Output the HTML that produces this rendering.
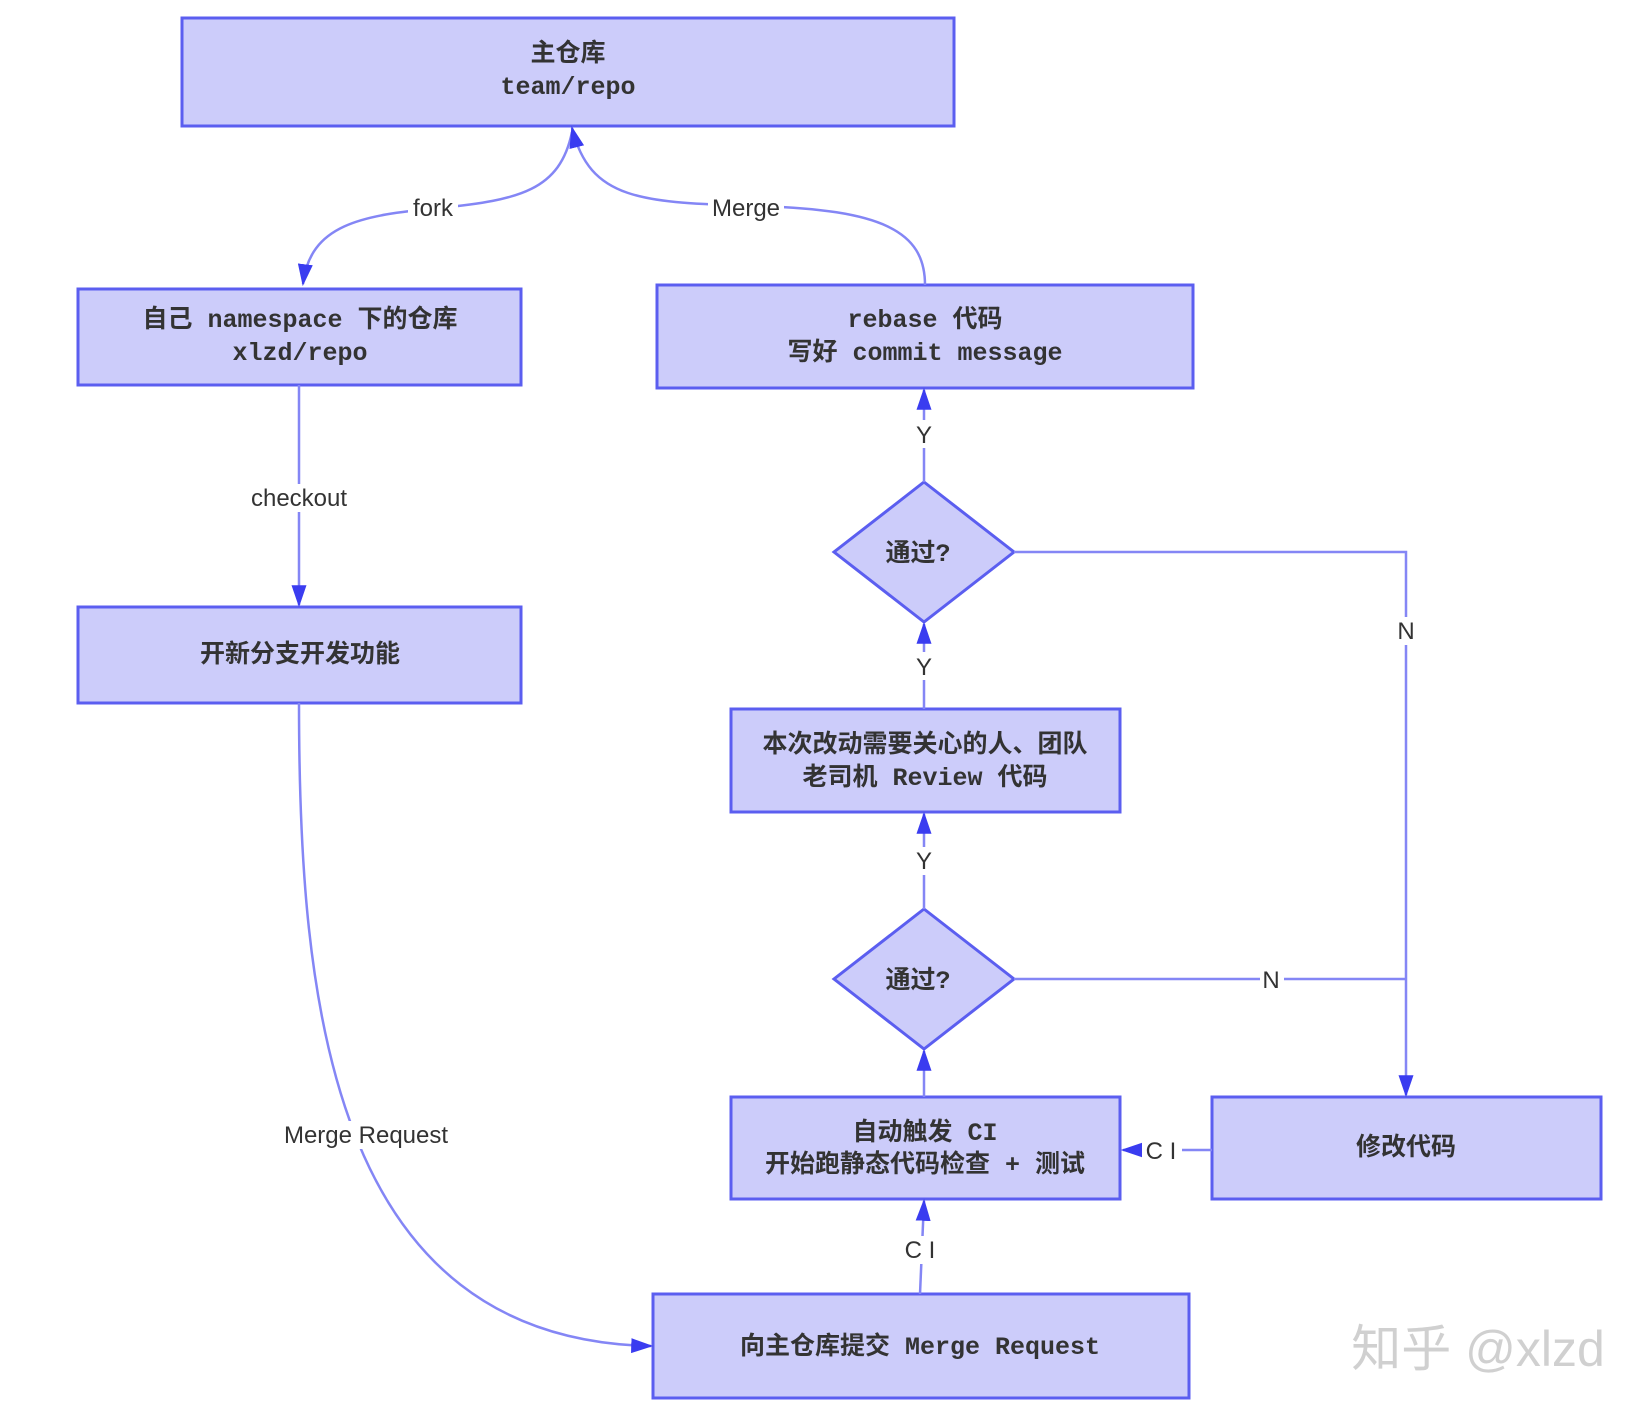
<!DOCTYPE html>
<html><head><meta charset="utf-8"><style>
body{margin:0;background:#fff}
svg text{font-family:"Liberation Mono","Noto Sans CJK SC",monospace;font-weight:bold;font-size:25px;fill:#333;text-anchor:middle}
svg text.l{font-family:"Liberation Sans","Noto Sans CJK SC",sans-serif;font-weight:normal;font-size:24px;fill:#333}
</style></head><body>
<svg width="1644" height="1410" viewBox="0 0 1644 1410" xmlns="http://www.w3.org/2000/svg">
<defs>
<marker id="b" viewBox="0 0 10 10" refX="9" refY="5" markerWidth="22" markerHeight="15" markerUnits="userSpaceOnUse" orient="auto" preserveAspectRatio="none"><path d="M0,0L10,5L0,10z" fill="#3a3cf0"/></marker></defs>
<g fill="#ccccfa" stroke="#5b5ef0" stroke-width="3">
<rect x="182" y="18" width="772" height="108"/>
<rect x="78" y="289" width="443" height="96"/>
<rect x="657" y="285" width="536" height="103"/>
<rect x="78" y="607" width="443" height="96"/>
<polygon points="924,482 1014,552 924,622 834,552"/>
<rect x="731" y="709" width="389" height="103"/>
<polygon points="924,909 1014,979 924,1049 834,979"/>
<rect x="731" y="1097" width="389" height="102"/>
<rect x="1212" y="1097" width="389" height="102"/>
<rect x="653" y="1294" width="536" height="104"/>
</g>
<g fill="none" stroke="#8486f5" stroke-width="2.5">
<path d="M572,132 C560,190 520,200 440,208 C360,215 310,225 303,284" marker-end="url(#b)"/>
<path d="M925,285 C925,230 880,210 760,206 C640,203 590,200 572,128" marker-end="url(#b)"/>
<path d="M299,385 L299,605" marker-end="url(#b)"/>
<path d="M299,703 C299,1000 330,1340 651,1346" marker-end="url(#b)"/>
<path d="M924,482 L924,390" marker-end="url(#b)"/>
<path d="M924,709 L924,624" marker-end="url(#b)"/>
<path d="M924,909 L924,814" marker-end="url(#b)"/>
<path d="M924,1097 L924,1051" marker-end="url(#b)"/>
<path d="M920,1294 L924,1201" marker-end="url(#b)"/>
<path d="M1212,1150 L1123,1150" marker-end="url(#b)"/>
<path d="M1014,552 L1406,552 L1406,1095" marker-end="url(#b)"/>
<path d="M1014,979 L1406,979"/>
</g>
<g fill="#fff">
<rect x="408" y="194" width="50" height="26"/><rect x="708" y="194" width="76" height="26"/>
<rect x="244" y="484" width="112" height="28"/><rect x="272" y="1121" width="188" height="28"/>
<rect x="912" y="420" width="24" height="28"/><rect x="912" y="652" width="24" height="28"/>
<rect x="912" y="847" width="24" height="28"/><rect x="902" y="1236" width="38" height="28"/>
<rect x="1142" y="1138" width="40" height="28"/><rect x="1394" y="617" width="24" height="28"/>
<rect x="1260" y="966" width="24" height="28"/>
</g>
<text x="568" y="61">主仓库</text><text x="568" y="94">team/repo</text>
<text x="300" y="327">自己 namespace 下的仓库</text><text x="300" y="360">xlzd/repo</text>
<text x="925" y="327">rebase 代码</text><text x="925" y="360">写好 commit message</text>
<text x="300" y="662">开新分支开发功能</text>
<text x="918" y="561">通过?</text>
<text x="925" y="752">本次改动需要关心的人、团队</text><text x="925" y="785">老司机 Review 代码</text>
<text x="918" y="988">通过?</text>
<text x="925" y="1140">自动触发 CI</text><text x="925" y="1172">开始跑静态代码检查 + 测试</text>
<text x="1406" y="1155">修改代码</text>
<text x="920" y="1354">向主仓库提交 Merge Request</text>
<text class="l" x="433" y="216">fork</text><text class="l" x="746" y="216">Merge</text>
<text class="l" x="299" y="506">checkout</text><text class="l" x="366" y="1143">Merge Request</text>
<text class="l" x="924" y="443">Y</text><text class="l" x="924" y="675">Y</text><text class="l" x="924" y="869">Y</text>
<text class="l" x="920" y="1258">C I</text><text class="l" x="1161" y="1159">C I</text>
<text class="l" x="1406" y="639">N</text><text class="l" x="1271" y="988">N</text>
<text class="l" x="1478" y="1366" style="font-size:50px;fill:#d0d0d0">知乎 @xlzd</text>
</svg>
</body></html>
